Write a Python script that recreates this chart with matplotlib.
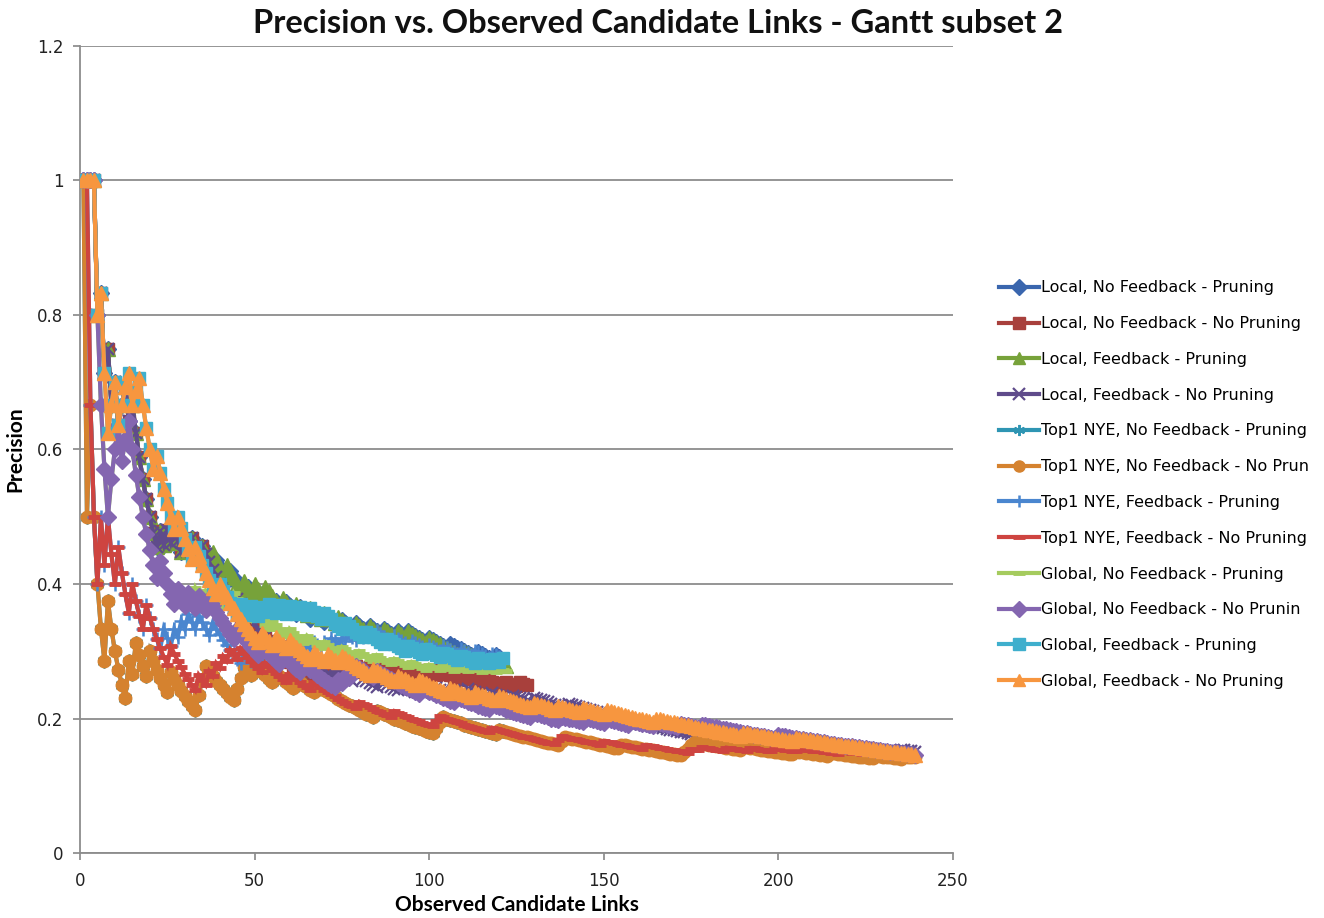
import numpy as np
import matplotlib
matplotlib.use("Agg")
import matplotlib.pyplot as plt

# Series labels, in drawing order
labels = [
    "Local, No Feedback - Pruning",
    "Local, No Feedback - No Pruning",
    "Local, Feedback - Pruning",
    "Local, Feedback - No Pruning",
    "Top1 NYE, No Feedback - Pruning",
    "Top1 NYE, No Feedback - No Prun",
    "Top1 NYE, Feedback - Pruning",
    "Top1 NYE, Feedback - No Pruning",
    "Global, No Feedback - Pruning",
    "Global, No Feedback - No Prunin",
    "Global, Feedback - Pruning",
    "Global, Feedback - No Pruning",
]

# Number of observed candidate links in each run
run_lengths = [120, 128, 122, 239, 121, 239, 120, 239, 122, 239, 121, 239]

# Ranks (observed candidate link number) at which a correct link was found
local_nf_p_hits = [1, 2, 3, 4, 6, 8, 10, 12, 13, 15, 23, 25, 27, 30, 32, 35,
                   39, 43, 48, 52, 56, 59, 63, 67, 71, 75, 79, 83, 87, 91, 94,
                   100, 106, 114, 119]
local_nf_np_hits = [1, 2, 3, 4, 6, 8, 10, 12, 13, 15, 23, 25, 27, 30, 32, 35,
                    50, 66, 69, 73, 75, 79, 83, 87, 91, 95, 99, 103, 110, 116,
                    122, 126]
local_f_p_hits = [1, 2, 3, 4, 6, 8, 10, 12, 13, 15, 23, 25, 27, 30, 32, 35,
                  38, 42, 47, 50, 53, 58, 62, 66, 70, 74, 79, 83, 87, 91, 94,
                  100, 110, 118]
local_f_np_hits = [1, 2, 3, 4, 6, 8, 10, 12, 13, 15, 23, 25, 27, 30, 32, 35,
                   45, 58, 68, 73, 79, 86, 92, 97, 102, 107, 111, 118, 124,
                   130, 140, 195, 205, 215, 225, 235]
top1_nf_p_hits = [1, 3, 8, 14, 16, 20, 26, 34, 35, 36, 45, 46, 47, 50, 56,
                  62, 68, 85, 102, 103, 104, 120]
top1_nf_np_hits = [1, 3, 8, 14, 16, 20, 26, 34, 35, 36, 45, 46, 47, 50, 56,
                   62, 68, 85, 102, 103, 104, 120, 138, 139, 155, 173, 174,
                   175, 176, 190, 205, 215, 228, 236]
top1_f_p_hits = [1, 2, 6, 8, 11, 15, 19, 24, 27, 29, 31, 34, 38, 47, 50, 53,
                 56, 59, 62, 65, 67, 70, 72, 75, 77, 80, 82, 85, 90, 95, 100,
                 104, 109, 113, 118]
top1_f_np_hits = [1, 2, 6, 8, 11, 15, 19, 26, 34, 37, 39, 41, 43, 46, 53, 60,
                  67, 80, 90, 102, 103, 118, 137, 138, 150, 162, 175, 178,
                  185, 192, 199, 206, 218, 226, 234]
global_nf_p_hits = [1, 2, 3, 4, 9, 10, 11, 13, 14, 23, 28, 31, 33, 36, 39, 42,
                    44, 50, 55, 60, 65, 70, 75, 80, 85, 90, 95, 100, 104, 108,
                    112, 116, 120]
global_nf_np_hits = [1, 2, 3, 4, 9, 10, 11, 13, 14, 23, 28, 31, 34, 37, 45, 52,
                     58, 64, 74, 76, 78, 79, 85, 98, 108, 118, 130, 138, 145,
                     151, 158, 165, 172, 178, 200]
global_f_p_hits = [1, 2, 3, 4, 6, 9, 10, 12, 13, 14, 16, 17, 22, 28, 33, 40,
                   46, 49, 52, 54, 57, 60, 63, 66, 70, 76, 82, 88, 94, 99, 104,
                   109, 114, 118, 121]
global_f_np_hits = [1, 2, 3, 4, 6, 9, 10, 12, 13, 14, 16, 17, 22, 28, 33, 40,
                    52, 56, 60, 67, 71, 75, 84, 91, 97, 106, 113, 120, 130, 137,
                    144, 151, 165, 190, 205]

hit_ranks = [local_nf_p_hits, local_nf_np_hits, local_f_p_hits, local_f_np_hits,
             top1_nf_p_hits, top1_nf_np_hits, top1_f_p_hits, top1_f_np_hits,
             global_nf_p_hits, global_nf_np_hits, global_f_p_hits, global_f_np_hits]

x_ticks = [0, 50, 100, 150, 200, 250]
y_ticks = [0, 0.2, 0.4, 0.6, 0.8, 1, 1.2]
y_tick_labels = ["0", "0.2", "0.4", "0.6", "0.8", "1", "1.2"]

# Styling per series
colors = ["#3A66AE", "#A8403C", "#77A23A", "#5F4B8B", "#2E95B3", "#D5822F",
          "#4A86CF", "#CE4440", "#A5CB5E", "#8466B0", "#3FAFCD", "#F7963F"]
asterisk = (6, 2, 0)
markers = ["D", "s", "^", "x", asterisk, "o", "+", "_", "_", "D", "s", "^"]
msizes = [8, 8.5, 9.5, 9, 10, 9, 10, 9, 9, 8, 8.5, 9.5]
mews = [1, 1, 1, 1.6, 1.4, 1, 1.8, 3.5, 3.5, 1, 1, 1]


def precision_curve(hits, n):
    x = np.arange(1, n + 1)
    found = np.searchsorted(np.sort(hits), x, side="right")
    return x, found / x


fig = plt.figure(figsize=(13.24, 9.18), dpi=100)
ax = fig.add_axes([0.0604, 0.0708, 0.6594, 0.8791])

for i, (lab, hits, n) in enumerate(zip(labels, hit_ranks, run_lengths)):
    x, p = precision_curve(hits, n)
    ax.plot(x, p, color=colors[i], lw=3, marker=markers[i], ms=msizes[i],
            mew=mews[i], mec=colors[i], mfc=colors[i], label=lab,
            zorder=3 + i, solid_joinstyle="miter")

ax.set_xlim(0, 250)
ax.set_ylim(0, 1.2)
ax.set_xticks(x_ticks)
ax.set_yticks(y_ticks)
ax.set_yticklabels(y_tick_labels)
ax.tick_params(axis="both", labelsize=12, length=5, width=1.2,
               color="#868686", labelcolor="#222222")
ax.tick_params(axis="x", pad=9)
ax.tick_params(axis="y", pad=7)
for lbl in ax.get_xticklabels() + ax.get_yticklabels():
    lbl.set_family("DejaVu Sans")

ax.grid(axis="y", color="#8C8C8C", lw=1.3)
ax.set_axisbelow(True)
for side in ("top", "right"):
    ax.spines[side].set_visible(False)
for side in ("left", "bottom"):
    ax.spines[side].set_color("#8C8C8C")
    ax.spines[side].set_linewidth(1.3)

fig.text(0.497, 0.974, "Precision vs. Observed Candidate Links - Gantt subset 2",
         ha="center", va="center", fontsize=23.5, fontweight="bold",
         family="Lato", color="#111111")
ax.set_xlabel("Observed Candidate Links", fontsize=15, fontweight="bold",
              family="Lato", labelpad=3)
ax.set_ylabel("Precision", fontsize=15, fontweight="bold", family="Lato",
              labelpad=8)

leg = fig.legend(loc="upper left", bbox_to_anchor=(0.750, 0.7015),
                 frameon=False, prop={"family": "DejaVu Sans", "size": 11.5},
                 handlelength=2.5, handletextpad=0.1, labelspacing=1.30,
                 numpoints=1, borderaxespad=0)
for h in leg.legend_handles:
    h.set_markersize(8)

fig.savefig("out.png", dpi=100)
